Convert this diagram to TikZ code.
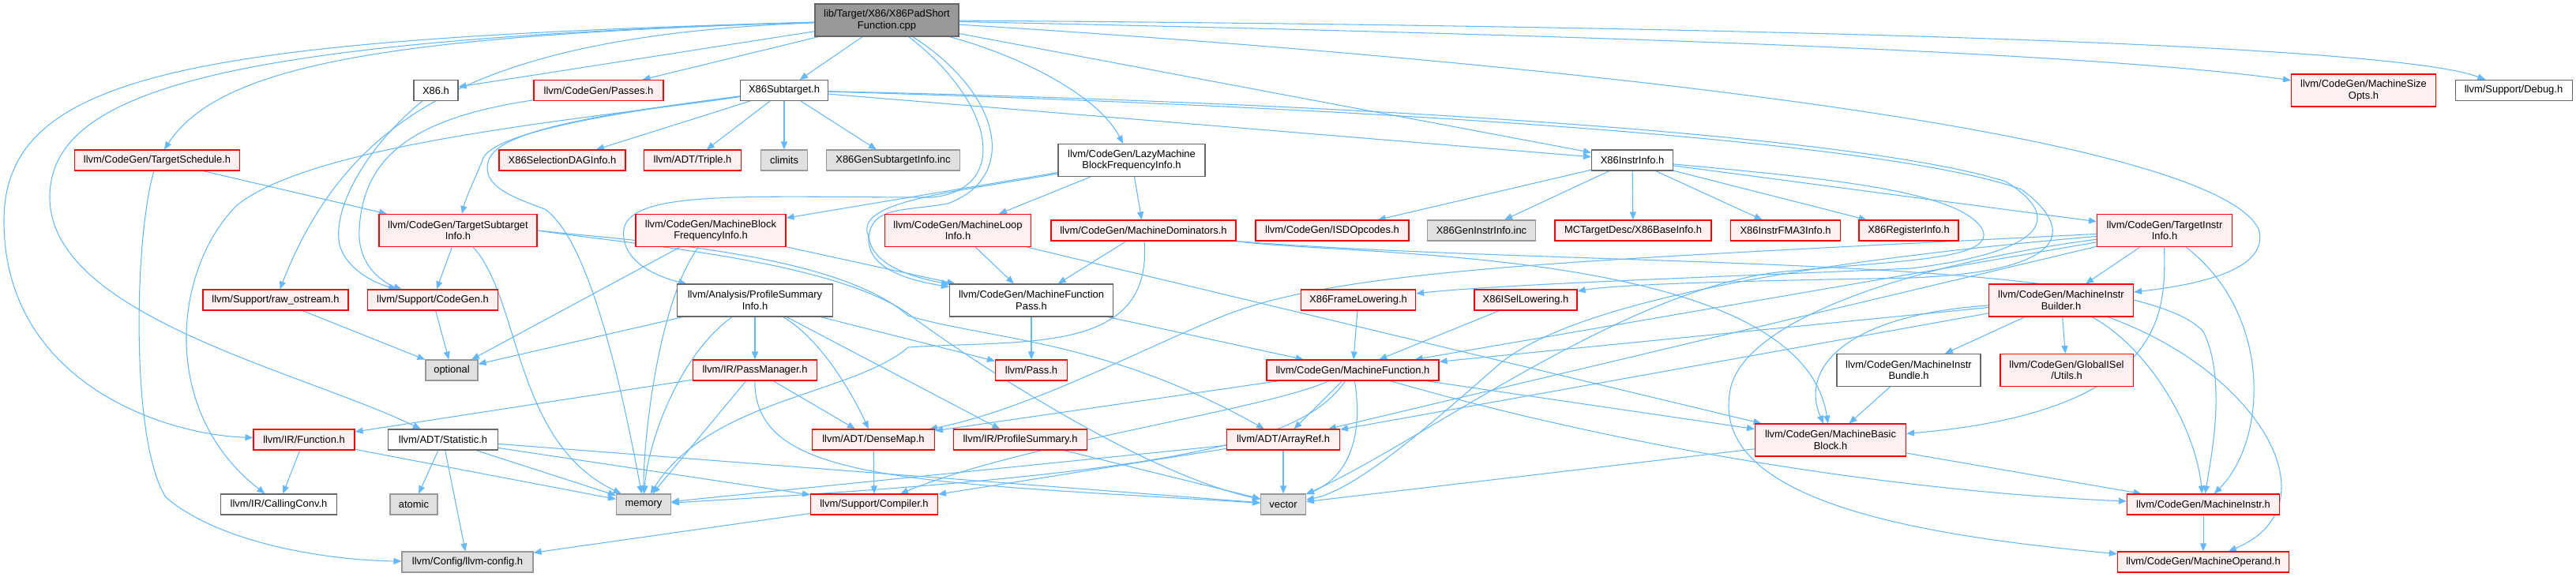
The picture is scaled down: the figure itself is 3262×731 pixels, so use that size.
\documentclass[tikz,border=0pt]{standalone}
\usepackage{fontspec}
\setmainfont{Liberation Sans}
\usetikzlibrary{arrows.meta}
\definecolor{edgeblue}{HTML}{63B8FF}
\definecolor{nodered}{HTML}{FF0000}
\definecolor{nodefill}{HTML}{FFF0F0}
\definecolor{bordergray}{HTML}{666666}
\definecolor{lightborder}{HTML}{999999}
\definecolor{extfill}{HTML}{E0E0E0}
\definecolor{mainfill}{HTML}{999999}
\pgfdeclarelayer{bg}
\pgfsetlayers{bg,main}
\begin{document}
\begin{tikzpicture}[x=0.75pt,y=-0.75pt,
  nbase/.style={font=\fontsize{9.7}{10.8}\selectfont, align=center, inner sep=0pt, minimum height=19.5pt, line width=0.8pt},
  dbl/.style={minimum height=30.75pt},
  bw/.style={minimum width=#1*0.75pt},
  redbox/.style={nbase, draw=nodered, fill=nodefill},
  whitebox/.style={nbase, draw=bordergray, fill=white},
  graybox/.style={nbase, draw=lightborder, fill=extfill},
  mainbox/.style={nbase, draw=bordergray, fill=mainfill},
  dep/.style={draw=edgeblue, line width=0.8pt, -{Triangle[length=7.5pt,width=6pt]}}]
\useasboundingbox (0,0) rectangle (3262,731);
% row 1
\node[mainbox,bw=182,dbl] (main) at (1123,25.5) {lib/Target/X86/X86PadShort\\Function.cpp};
% row 2
\node[whitebox,bw=56] (x86h) at (552,114.5) {X86.h};
\node[redbox,bw=164] (passes) at (758,114.5) {llvm/CodeGen/Passes.h};
\node[whitebox,bw=111] (subtarget) at (993,114.5) {X86Subtarget.h};
\node[redbox,bw=183,dbl] (sizeopts) at (2993,114.5) {llvm/CodeGen/MachineSize\\Opts.h};
\node[whitebox,bw=148] (debug) at (3183,114.5) {llvm/Support/Debug.h};
% row 3
\node[redbox,bw=209] (sched) at (199,203) {llvm/CodeGen/TargetSchedule.h};
\node[redbox,bw=160] (seldag) at (712,203) {X86SelectionDAGInfo.h};
\node[redbox,bw=123] (triple) at (877,203) {llvm/ADT/Triple.h};
\node[graybox,bw=59] (climits) at (993,203) {climits};
\node[graybox,bw=169] (gensub) at (1131,203) {X86GenSubtargetInfo.inc};
\node[whitebox,bw=186,dbl] (lazy) at (1433,203) {llvm/CodeGen/LazyMachine\\BlockFrequencyInfo.h};
\node[whitebox,bw=103] (instrinfo) at (2067,203) {X86InstrInfo.h};
% row 4
\node[redbox,bw=200,dbl] (tsi) at (580,292) {llvm/CodeGen/TargetSubtarget\\Info.h};
\node[redbox,bw=190,dbl] (mbfi) at (900,292) {llvm/CodeGen/MachineBlock\\FrequencyInfo.h};
\node[redbox,bw=185,dbl] (mli) at (1213,292) {llvm/CodeGen/MachineLoop\\Info.h};
\node[redbox,bw=234] (mdom) at (1448,292) {llvm/CodeGen/MachineDominators.h};
\node[redbox,bw=194] (isd) at (1687,292) {llvm/CodeGen/ISDOpcodes.h};
\node[graybox,bw=137] (geninstr) at (1876,292) {X86GenInstrInfo.inc};
\node[redbox,bw=198] (baseinfo) at (2068,292) {MCTargetDesc/X86BaseInfo.h};
\node[redbox,bw=139] (fma3) at (2261,292) {X86InstrFMA3Info.h};
\node[redbox,bw=126] (reginfo) at (2417,292) {X86RegisterInfo.h};
\node[redbox,bw=171,dbl] (tii) at (2741,292) {llvm/CodeGen/TargetInstr\\Info.h};
% row 5
\node[redbox,bw=184] (rawos) at (349,380) {llvm/Support/raw\_ostream.h};
\node[redbox,bw=165] (codegen) at (548,380) {llvm/Support/CodeGen.h};
\node[whitebox,bw=197,dbl] (psi) at (956,380.5) {llvm/Analysis/ProfileSummary\\Info.h};
\node[whitebox,bw=207,dbl] (mfp) at (1306,380.5) {llvm/CodeGen/MachineFunction\\Pass.h};
\node[redbox,bw=145] (framelow) at (1720,380) {X86FrameLowering.h};
\node[redbox,bw=130] (isellow) at (1932,380) {X86ISelLowering.h};
\node[redbox,bw=183,dbl] (mib) at (2610,380.5) {llvm/CodeGen/MachineInstr\\Builder.h};
% row 6
\node[graybox,bw=66] (optional) at (572,469) {optional};
\node[redbox,bw=157] (passmgr) at (956,469) {llvm/IR/PassManager.h};
\node[redbox,bw=91] (pass) at (1306,469) {llvm/Pass.h};
\node[redbox,bw=218] (mf) at (1713,469) {llvm/CodeGen/MachineFunction.h};
\node[whitebox,bw=182,dbl] (bundle) at (2417,469) {llvm/CodeGen/MachineInstr\\Bundle.h};
\node[redbox,bw=168,dbl] (gisel) at (2617,469) {llvm/CodeGen/GlobalISel\\/Utils.h};
% row 7
\node[redbox,bw=128] (function) at (385,557) {llvm/IR/Function.h};
\node[whitebox,bw=139] (statistic) at (561,557) {llvm/ADT/Statistic.h};
\node[redbox,bw=155] (densemap) at (1106,557) {llvm/ADT/DenseMap.h};
\node[redbox,bw=169] (profsum) at (1292,557) {llvm/IR/ProfileSummary.h};
\node[redbox,bw=143] (arrayref) at (1625,557) {llvm/ADT/ArrayRef.h};
\node[redbox,bw=191,dbl] (mbb) at (2318,557.5) {llvm/CodeGen/MachineBasic\\Block.h};
% row 8
\node[whitebox,bw=147] (callconv) at (353,639) {llvm/IR/CallingConv.h};
\node[graybox,bw=60] (atomic) at (524,639) {atomic};
\node[graybox,bw=69] (memory) at (815,639) {memory};
\node[redbox,bw=161] (compiler) at (1107,639) {llvm/Support/Compiler.h};
\node[graybox,bw=57] (vector) at (1625,639) {vector};
\node[redbox,bw=193] (minstr) at (2790,639) {llvm/CodeGen/MachineInstr.h};
% row 9
\node[graybox,bw=166] (llvmconfig) at (592,712) {llvm/Config/llvm-config.h};
\node[redbox,bw=217] (moperand) at (2790,712) {llvm/CodeGen/MachineOperand.h};

\begin{pgfonlayer}{bg}
% main
\draw[dep] (main) -- (x86h);
\draw[dep] (main) -- (passes);
\draw[dep] (main) -- (subtarget);
\draw[dep] (main) -- (instrinfo);
\draw[dep] (main) .. controls (1290,70) and (1390,120) .. (lazy);
\draw[dep] (main) .. controls (250,50) and (5,90) .. (5,280) .. controls (5,480) and (200,550) .. (function);
\draw[dep] (main) .. controls (300,50) and (63,110) .. (63,250) .. controls (63,400) and (380,470) .. (statistic);
\draw[dep] (main) .. controls (500,45) and (280,80) .. (sched);
\draw[dep] (main) .. controls (600,45) and (440,150) .. (rawos);
\draw[dep] (main) .. controls (1260,130) and (1280,240) .. (1180,250) .. controls (950,250) and (800,240) .. (790,290) .. controls (785,330) and (830,350) .. (psi);
\draw[dep] (main) .. controls (1270,120) and (1290,225) .. (1200,258) .. controls (1140,268) and (1105,262) .. (1100,300) .. controls (1097,340) and (1150,355) .. (mfp);
\draw[dep] (main) .. controls (2000,80) and (2800,170) .. (2860,290) .. controls (2875,340) and (2790,360) .. (mib);
\draw[dep] (main) .. controls (1800,40) and (2600,60) .. (sizeopts);
\draw[dep] (main) .. controls (1800,30) and (3000,45) .. (debug);
% X86.h, Passes.h
\draw[dep] (x86h) .. controls (470,180) and (420,260) .. (430,310) .. controls (440,345) and (480,360) .. (codegen);
\draw[dep] (passes) .. controls (520,150) and (460,200) .. (455,290) .. controls (452,340) and (490,360) .. (codegen);
% X86Subtarget.h
\draw[dep] (subtarget) .. controls (800,140) and (630,165) .. (612,200) .. controls (600,230) and (590,250) .. (tsi);
\draw[dep] (subtarget) .. controls (750,150) and (400,180) .. (300,260) .. controls (220,340) and (200,520) .. (callconv);
\draw[dep] (subtarget) .. controls (800,140) and (640,160) .. (620,200) .. controls (605,235) and (650,250) .. (690,265) .. controls (740,300) and (780,450) .. (memory);
\draw[dep] (subtarget) -- (seldag);
\draw[dep] (subtarget) -- (triple);
\draw[dep] (subtarget) -- (climits);
\draw[dep] (subtarget) -- (gensub);
\draw[dep] (subtarget) -- (instrinfo);
\draw[dep] (subtarget) .. controls (1700,130) and (2350,170) .. (2540,230) .. controls (2620,280) and (2580,320) .. (2420,340) .. controls (2200,350) and (1900,360) .. (framelow);
\draw[dep] (subtarget) .. controls (1700,135) and (2380,175) .. (2560,240) .. controls (2640,300) and (2600,345) .. (2420,352) .. controls (2200,356) and (2050,360) .. (isellow);
% TargetSchedule, TargetSubtargetInfo
\draw[dep] (sched) -- (tsi);
\draw[dep] (sched) .. controls (170,300) and (165,560) .. (210,630) .. controls (280,690) and (420,710) .. (llvmconfig);
\draw[dep] (tsi) -- (codegen);
\draw[dep] (tsi) .. controls (660,380) and (650,560) .. (memory);
\draw[dep] (tsi.east) .. controls (800,305) and (1060,320) .. (1150,400) .. controls (1250,430) and (1400,430) .. (arrayref);
\draw[dep] (tsi.east) .. controls (800,310) and (1070,330) .. (1160,405) .. controls (1250,470) and (1450,600) .. (vector);
% Lazy MBFI
\draw[dep] (lazy) -- (mbfi);
\draw[dep] (lazy) -- (mli);
\draw[dep] (lazy) -- (mdom);
\draw[dep] (lazy) .. controls (1200,245) and (1080,255) .. (1100,300) .. controls (1105,335) and (1150,350) .. (mfp);
% MBFI, MLI, MDom
\draw[dep] (mbfi) -- (optional);
\draw[dep] (mbfi) .. controls (835,380) and (815,550) .. (memory);
\draw[dep] (mbfi) -- (mfp);
\draw[dep] (mli) -- (mfp);
\draw[dep] (mli) -- (mbb);
\draw[dep] (mdom) -- (mfp);
\draw[dep] (mdom.south east) .. controls (1700,325) and (2280,310) .. (mbb);
\draw[dep] (mdom.south east) .. controls (2000,340) and (2700,320) .. (2790,420) .. controls (2820,480) and (2800,580) .. (minstr);
\draw[dep] (mdom) .. controls (1460,450) and (1300,430) .. (1150,440) .. controls (1080,500) and (900,505) .. (memory);
% MFP, PSI, PassManager
\draw[dep] (mfp) -- (mf);
\draw[dep] (mfp) -- (pass);
\draw[dep] (psi) -- (passmgr);
\draw[dep] (psi) .. controls (1040,430) and (1080,500) .. (densemap);
\draw[dep] (psi) -- (profsum);
\draw[dep] (psi) -- (pass);
\draw[dep] (psi) -- (optional);
\draw[dep] (psi) .. controls (860,450) and (820,560) .. (memory);
\draw[dep] (passmgr) -- (function);
\draw[dep] (passmgr) -- (densemap);
\draw[dep] (passmgr) -- (memory);
\draw[dep] (passmgr) .. controls (955,610) and (1150,610) .. (vector);
\draw[dep] (profsum) -- (vector);
% X86 lowering
\draw[dep] (framelow) -- (mf);
\draw[dep] (isellow) -- (mf);
% X86InstrInfo
\draw[dep] (instrinfo) -- (isd);
\draw[dep] (instrinfo) -- (geninstr);
\draw[dep] (instrinfo) -- (baseinfo);
\draw[dep] (instrinfo) -- (fma3);
\draw[dep] (instrinfo) -- (reginfo);
\draw[dep] (instrinfo) -- (tii);
\draw[dep] (instrinfo) .. controls (2300,225) and (2480,240) .. (2510,290) .. controls (2530,330) and (2400,330) .. (2250,345) .. controls (2050,370) and (1800,560) .. (vector);
% TargetInstrInfo
\draw[dep] (tii) -- (mib);
\draw[dep] (tii) -- (mf);
\draw[dep] (tii) -- (arrayref);
\draw[dep] (tii) .. controls (2000,330) and (1700,340) .. (1550,400) .. controls (1450,440) and (1300,520) .. (densemap);
\draw[dep] (tii) .. controls (2740,380) and (2760,520) .. (mbb);
\draw[dep] (tii) .. controls (2880,400) and (2870,560) .. (minstr);
\draw[dep] (tii) .. controls (2450,330) and (2200,400) .. (2190,500) .. controls (2170,640) and (2450,680) .. (moperand);
\draw[dep] (tii) .. controls (2300,330) and (2000,380) .. (1900,460) .. controls (1820,530) and (1720,620) .. (vector);
% MachineInstrBuilder
\draw[dep] (mib) -- (arrayref);
\draw[dep] (mib) -- (gisel);
\draw[dep] (mib) -- (bundle);
\draw[dep] (mib) -- (mf);
\draw[dep] (mib) .. controls (2330,400) and (2280,470) .. (mbb);
\draw[dep] (mib) .. controls (2720,440) and (2780,540) .. (minstr);
\draw[dep] (mib) .. controls (2860,470) and (2960,640) .. (moperand);
\draw[dep] (bundle) -- (mbb);
% MachineFunction
\draw[dep] (mf) -- (arrayref);
\draw[dep] (mf) -- (densemap);
\draw[dep] (mf) -- (mbb);
\draw[dep] (mf) .. controls (1650,560) and (1500,600) .. (memory);
\draw[dep] (mf) .. controls (1600,520) and (1300,560) .. (compiler);
\draw[dep] (mf) .. controls (1725,540) and (1715,600) .. (vector);
\draw[dep] (mf) .. controls (2100,580) and (2450,625) .. (minstr);
% MBB, MachineInstr
\draw[dep] (mbb) -- (minstr);
\draw[dep] (mbb) -- (vector);
\draw[dep] (minstr) -- (moperand);
% Function, Statistic
\draw[dep] (function) -- (callconv);
\draw[dep] (function) -- (memory);
\draw[dep] (statistic) -- (atomic);
\draw[dep] (statistic) -- (llvmconfig);
\draw[dep] (statistic) -- (memory);
\draw[dep] (statistic) -- (compiler);
\draw[dep] (statistic) -- (vector);
% ADT, Support
\draw[dep] (arrayref) -- (vector);
\draw[dep] (arrayref) -- (memory);
\draw[dep] (arrayref) -- (compiler);
\draw[dep] (densemap) -- (compiler);
\draw[dep] (compiler) -- (llvmconfig);
\draw[dep] (rawos) -- (optional);
\draw[dep] (codegen) -- (optional);
\end{pgfonlayer}
\end{tikzpicture}
\end{document}
